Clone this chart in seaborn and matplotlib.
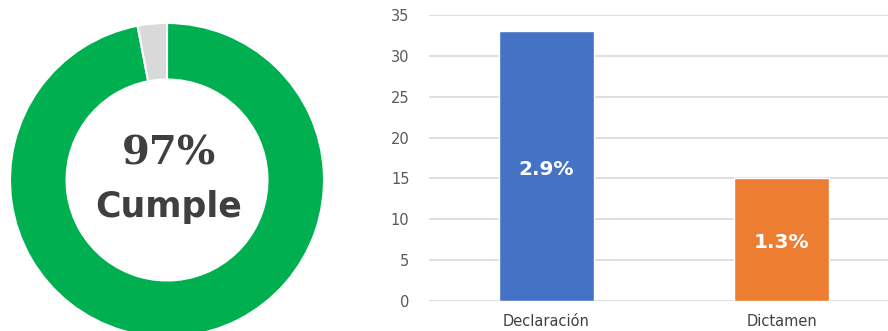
import matplotlib
matplotlib.use("Agg")
import matplotlib.pyplot as plt
import seaborn as sns
import pandas as pd

# Compliance donut
donut_labels = ["Cumple", "No cumple"]
donut_values = [97, 3]
donut_colors = ["#00B050", "#D9D9D9"]
center_pct = "97%"
center_word = "Cumple"

# Non-compliance counts by type
categories = ["Declaración", "Dictamen"]
counts = [33, 15]
share_labels = ["2.9%", "1.3%"]
bar_colors = ["#4472C4", "#ED7D31"]
y_ticks = [0, 5, 10, 15, 20, 25, 30, 35]

sns.set_theme(style="white")
plt.rcParams["font.family"] = ["DejaVu Sans"]

W, H = 888, 331
fig = plt.figure(figsize=(W / 100, H / 100), dpi=100)

# ---- donut ----
cx, cy, r = 167, 180, 157
axd = fig.add_axes([(cx - r) / W, (H - cy - r) / H, 2 * r / W, 2 * r / H])
axd.pie(donut_values, colors=donut_colors, startangle=90, counterclock=False,
        radius=1.0, wedgeprops=dict(width=0.36, edgecolor="white", linewidth=1.5))
axd.set_xlim(-1, 1)
axd.set_ylim(-1, 1)
axd.set_aspect("equal")
axd.axis("off")
axd.text(0.01, 0.17, center_pct, ha="center", va="center", fontsize=29,
         fontweight="bold", family=["DejaVu Serif"], color="#3F3F3F")
axd.text(0.01, -0.17, center_word, ha="center", va="center", fontsize=25,
         fontweight="bold", family=["DejaVu Sans"], color="#3F3F3F")

# ---- bars ----
left, right, bottom, top = 429, 888, 30, 316
axb = fig.add_axes([left / W, bottom / H, (right - left) / W, (top - bottom) / H])
df = pd.DataFrame({"cat": categories, "n": counts})
sns.barplot(data=df, x="cat", y="n", hue="cat", palette=bar_colors,
            saturation=1, width=0.405, legend=False, ax=axb)
axb.set_xlim(-0.5, 1.5 - 11 / 235)
axb.set_ylim(0, 35)
axb.set_yticks(y_ticks)
axb.yaxis.grid(True, color="#D9D9D9", linewidth=1.2)
axb.set_axisbelow(True)
for s in axb.spines.values():
    s.set_visible(False)
axb.set_xlabel("")
axb.set_ylabel("")
axb.tick_params(axis="y", length=0, pad=14, labelsize=10.5, labelcolor="#595959")
axb.tick_params(axis="x", length=0, pad=9, labelsize=10.5, labelcolor="#404040")
for i, (v, lab) in enumerate(zip(counts, share_labels)):
    axb.text(i, v / 2 - 0.4, lab, ha="center", va="center", color="white",
             fontsize=14.5, fontweight="bold")

fig.savefig("out.png", dpi=100, facecolor="white")
